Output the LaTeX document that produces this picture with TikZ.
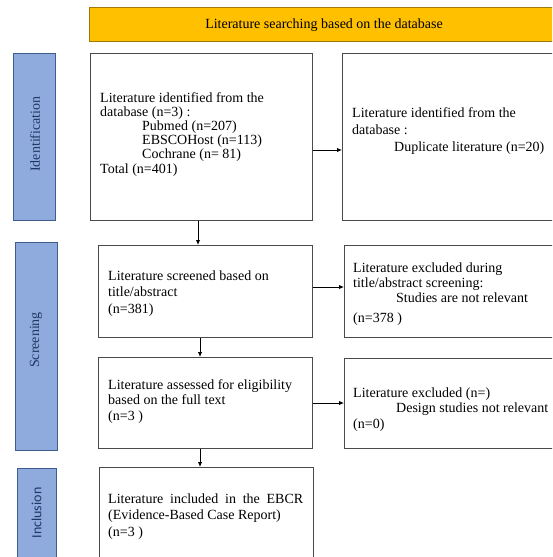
\documentclass[tikz,border=0pt]{standalone}
\usepackage{fontspec}
\setmainfont{Liberation Serif}
\newfontfamily\calfont{Carlito}
\usetikzlibrary{arrows.meta}
\definecolor{orangefill}{HTML}{FFC000}
\definecolor{orangeedge}{HTML}{A0790A}
\definecolor{bluefill}{HTML}{8FAADC}
\definecolor{blueedge}{HTML}{3F5E8E}
\definecolor{bluetext}{HTML}{1F3864}
\definecolor{boxedge}{HTML}{4A4A4A}
\tikzset{
  x=1pt, y=-1pt,
  box/.style={draw=boxedge, line width=0.9pt, fill=white, rectangle, inner sep=0pt, anchor=north west},
  lab/.style={draw=blueedge, line width=0.9pt, fill=bluefill, rectangle, inner sep=0pt, anchor=north west},
  head/.style={draw=orangeedge, line width=0.9pt, fill=orangefill, rectangle, inner sep=0pt, anchor=north west},
  txt/.style={inner sep=0pt, anchor=base west, align=left},
  labtxt/.style={inner sep=0pt, rotate=90, text=bluetext, font=\fontsize{14}{16}\selectfont},
  arr/.style={-{Latex[length=5pt,width=4.5pt]}, line width=0.9pt, black},
}
\begin{document}
\begin{tikzpicture}
\useasboundingbox (0,0) rectangle (552,557);
\clip (0,0) rectangle (552,557);
% header
\node[head, minimum width=480pt, minimum height=34pt] (head) at (89,7) {};
\node[inner sep=0pt, font=\fontsize{14}{16}\selectfont] (headtxt) at (324,25) {Literature searching based on the database};
% stage labels
\node[lab, minimum width=42pt, minimum height=167pt] (idlab) at (13,53) {};
\node[labtxt] (idtxt) at (35,134) {Identification};
\node[lab, minimum width=42pt, minimum height=208pt] (scrlab) at (15,242) {};
\node[labtxt] (scrtxt) at (36,340) {Screening};
\node[lab, minimum width=39pt, minimum height=110pt] (inclab) at (17,468) {};
\node[labtxt, font=\calfont\fontsize{14}{16}\selectfont] (inctxt) at (36.5,513) {Inclusion};
% boxes
\node[box, minimum width=222pt, minimum height=167pt] (box1) at (90,53) {};
\node[box, minimum width=230pt, minimum height=167pt] (rbox1) at (342,53) {};
\node[box, minimum width=214pt, minimum height=92pt] (box2) at (98,245) {};
\node[box, minimum width=230pt, minimum height=92pt] (rbox2) at (344,245) {};
\node[box, minimum width=214pt, minimum height=91pt] (box3) at (98,357) {};
\node[box, minimum width=230pt, minimum height=90pt] (rbox3) at (344,358) {};
\node[box, minimum width=214pt, minimum height=110pt] (box4) at (99,467) {};
% texts (base anchor = baseline of last line)
\node[txt, font=\fontsize{14}{14.2}\selectfont] (t1) at (100,173)
 {Literature identified from the\\database (n=3) :\\\hspace*{42pt}Pubmed (n=207)\\\hspace*{42pt}EBSCOHost (n=113)\\\hspace*{42pt}Cochrane (n= 81)\\Total (n=401)};
\node[txt, font=\fontsize{14}{17}\selectfont] (rt1) at (352,151)
 {Literature identified from the\\database :\\\hspace*{42pt}Duplicate literature (n=20)};
\node[txt, font=\fontsize{14}{16.3}\selectfont] (t2) at (108,313)
 {Literature screened based on\\title/abstract\\(n=381)};
\node[txt, font=\fontsize{14}{15}\selectfont] (rt2) at (353,322)
 {Literature excluded during\\title/abstract screening:\\\hspace*{43pt}Studies are not relevant\\[5pt](n=378 )};
\node[txt, font=\fontsize{14}{15.5}\selectfont] (t3) at (108,420)
 {Literature assessed for eligibility\\based on the full text\\(n=3 )};
\node[txt, font=\fontsize{14}{15.5}\selectfont] (rt3) at (353,428)
 {Literature excluded (n=)\\\hspace*{43pt}Design studies not relevant\\(n=0)};
\node[txt, font=\fontsize{14}{16.5}\selectfont] (t4) at (108,536)
 {\makebox[195pt][s]{Literature included in the EBCR}\\(Evidence-Based Case Report)\\(n=3 )};
% connectors
\coordinate (cA) at (198,150);
\coordinate (cB) at (200,287);
\coordinate (cC) at (200,403);
\draw[arr] (box1.south -| cA) -- (box2.north -| cA);
\draw[arr] (box2.south -| cB) -- (box3.north -| cB);
\draw[arr] (box3.south -| cB) -- (box4.north -| cB);
\draw[arr] (box1.east |- cA) -- (rbox1.west |- cA);
\draw[arr] (box2.east |- cB) -- (rbox2.west |- cB);
\draw[arr] (box3.east |- cC) -- (rbox3.west |- cC);
\end{tikzpicture}
\end{document}
